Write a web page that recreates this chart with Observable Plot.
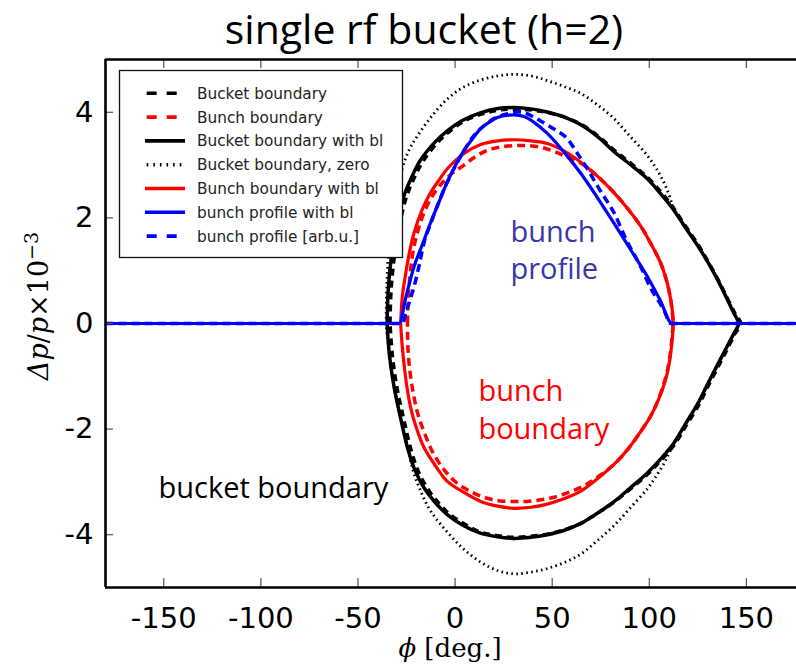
<!DOCTYPE html>
<html><head><meta charset="utf-8">
<script src="https://cdn.jsdelivr.net/npm/d3@7"></script>
<script src="https://cdn.jsdelivr.net/npm/@observablehq/plot@0.6"></script>
<style>body{margin:0;background:#fff;} svg{display:block;}</style>
</head><body><div id="chart"></div>
<script>
// ---- data (phi in degrees, dp in 1e-3) ----
const xDomain = [-180, 175.8];
const yDomain = [-5, 5];
const xTicks = [-150, -100, -50, 0, 50, 100, 150];
const yTicks = [-4, -2, 0, 2, 4];

const bucketNoBL = [[-33.5,0],[-33,0.6],[-31.5,1.2],[-29,1.8],[-25,2.4],[-20.5,2.8],[-16,3.1],[-8.5,3.45],[-2.5,3.65],[5,3.84],[14,3.97],[22,4.04],[30,4.06],[40,4.04],[48,3.99],[57,3.9],[65,3.77],[74,3.54],[82,3.28],[91,3.02],[99,2.77],[106,2.49],[112,2.21],[118,1.88],[125,1.5],[130,1.19],[135,0.86],[140,0.49],[144,0.2],[147,0],
[144,-0.2],[140.5,-0.46],[136,-0.78],[130.5,-1.17],[125.5,-1.54],[119,-1.93],[113,-2.29],[106,-2.59],[99,-2.86],[90,-3.14],[82,-3.38],[73,-3.6],[65,-3.78],[56,-3.91],[47.5,-3.99],[39,-4.03],[30,-4.05],[22,-4.02],[13,-3.95],[5,-3.8],[-2.5,-3.62],[-8.5,-3.4],[-14.5,-3.11],[-19.5,-2.75],[-23,-2.35],[-26.5,-1.8],[-30,-1.2],[-32.3,-0.6],[-33.5,0]];

const bunchNoBL = [[-24.5,0],[-24.2,0.4],[-23.4,0.83],[-22.3,1.2],[-20.9,1.5],[-18.8,1.8],[-16,2.1],[-12,2.4],[-7.4,2.63],[-2,2.83],[4.6,3.0],[10,3.15],[16.6,3.28],[23,3.34],[30.3,3.37],[37,3.37],[44,3.34],[51,3.26],[57.8,3.15],[64.6,3.04],[73,2.8],[81.8,2.48],[89,2.17],[95.5,1.85],[101,1.5],[105.8,1.15],[109,0.8],[110.8,0.5],[112,0.15],[112.2,0],
[111.6,-0.3],[110.3,-0.7],[108.2,-1.05],[104,-1.5],[100,-1.8],[95.5,-2.05],[89,-2.38],[81.8,-2.67],[73,-2.92],[66,-3.08],[59,-3.19],[51,-3.29],[44,-3.34],[37,-3.37],[30.3,-3.37],[23,-3.36],[16.6,-3.31],[9,-3.2],[1.2,-3.03],[-5,-2.8],[-10.9,-2.48],[-15.5,-2.1],[-19.2,-1.71],[-21.6,-1.3],[-23.3,-0.89],[-24.3,-0.45],[-24.5,0]];

const bucketBL = [[-35,0],[-34.5,0.6],[-33,1.2],[-30.5,1.8],[-26.5,2.4],[-22,2.8],[-17.7,3.1],[-10,3.45],[-4,3.65],[4,3.85],[13,3.99],[22,4.07],[30,4.09],[40,4.06],[48,4.0],[57,3.9],[65,3.76],[74,3.52],[82,3.25],[91,2.99],[99,2.74],[106,2.45],[112,2.18],[118,1.85],[125,1.47],[130,1.17],[135,0.84],[140,0.47],[143.5,0.2],[146,0],
[143.5,-0.19],[140,-0.44],[135.3,-0.77],[130,-1.15],[124.9,-1.52],[118.5,-1.91],[112.6,-2.27],[106,-2.56],[99,-2.83],[90,-3.12],[82,-3.37],[73,-3.6],[65,-3.78],[56,-3.92],[47.5,-4.0],[39,-4.05],[30,-4.07],[22,-4.04],[13,-3.97],[4,-3.82],[-4,-3.62],[-10,-3.4],[-16,-3.11],[-21,-2.75],[-24.5,-2.35],[-28,-1.8],[-31.4,-1.2],[-33.8,-0.6],[-35,0]];

const bucketZero = [[-35.5,0],[-35.2,0.7],[-34,1.5],[-31.5,2.25],[-27.5,2.9],[-23.5,3.3],[-19.4,3.55],[-12.6,3.9],[-4,4.25],[4,4.47],[13,4.61],[22,4.69],[30,4.72],[39,4.69],[47.5,4.6],[56,4.49],[64.6,4.36],[73,4.15],[81.8,3.88],[90,3.55],[99,3.18],[105,2.85],[109,2.55],[113,2.15],[118,1.85],[125,1.47],[130,1.17],[135,0.84],[140,0.47],[143.5,0.2],[146,0],
[143.5,-0.19],[140,-0.44],[135.3,-0.77],[130,-1.15],[124.9,-1.52],[118.5,-1.91],[112.6,-2.27],[108,-2.62],[103,-2.92],[99,-3.13],[90,-3.5],[81.8,-3.83],[73,-4.12],[64.6,-4.37],[56,-4.53],[47.5,-4.64],[39,-4.71],[30.3,-4.74],[22,-4.68],[13.2,-4.52],[4,-4.26],[-4,-3.95],[-12.6,-3.55],[-18,-3.15],[-21.5,-2.8],[-24.5,-2.35],[-28,-1.8],[-31.4,-1.2],[-33.8,-0.6],[-35.5,0]];

const bunchBL = [[-28,0],[-27.2,0.5],[-25.4,0.95],[-23.5,1.35],[-21.1,1.72],[-17,2.15],[-12.6,2.48],[-8,2.73],[-4,2.93],[4.6,3.22],[13.2,3.39],[22,3.46],[30.3,3.48],[39,3.46],[47.5,3.41],[56,3.27],[64.6,3.06],[73,2.8],[81.8,2.48],[89,2.17],[95.5,1.85],[101,1.5],[105.8,1.15],[109,0.8],[110.8,0.5],[112,0.2],[112.3,0],
[111.8,-0.3],[110.5,-0.7],[108.5,-1.05],[104.1,-1.5],[100,-1.8],[95.5,-2.05],[89,-2.38],[81.8,-2.67],[73,-2.95],[64.6,-3.18],[56,-3.32],[47.5,-3.42],[39,-3.48],[30.3,-3.5],[22,-3.46],[13.2,-3.37],[4.6,-3.2],[-4,-2.99],[-10,-2.7],[-16,-2.35],[-20,-1.97],[-22.9,-1.59],[-25,-1.15],[-26.3,-0.76],[-27.5,-0.3],[-28,0]];

const profileBL = [[-180,0],[-28.9,0],[-25,0.55],[-21.1,1.08],[-16.8,1.5],[-12.6,1.91],[-8.3,2.3],[-4,2.68],[0.3,3.0],[4.6,3.28],[9,3.5],[13.2,3.69],[17.5,3.81],[21.8,3.9],[26,3.94],[30.3,3.95],[35.5,3.92],[41,3.8],[47.5,3.6],[56,3.25],[64.6,2.85],[73,2.4],[81.8,1.9],[90,1.42],[99,0.89],[105.5,0.45],[111.8,0],[180,0]];

const profileArb = [[-180,0],[-27,0],[-25.4,0.19],[-23.2,0.45],[-21.1,0.7],[-18.5,1.1],[-16,1.53],[-12.5,1.9],[-9.1,2.23],[-5,2.6],[-0.6,2.93],[4.5,3.27],[9.7,3.56],[15,3.75],[20,3.88],[27,3.97],[33.8,4.01],[40,3.92],[47.5,3.76],[52,3.66],[57.8,3.5],[63,3.22],[68.1,2.93],[75,2.5],[81.8,2.1],[88,1.6],[95.5,1.08],[101,0.65],[107.5,0.26],[111,0],[180,0]];

const legendLabels = ["Bucket boundary","Bunch boundary","Bucket boundary with bl","Bucket boundary, zero","Bunch boundary with bl","bunch profile with bl","bunch profile [arb.u.]"];

const titleText = "single rf bucket (h=2)";
const notes = [
  {phi: 28.5, dp: 0.85, text: "bunch\nprofile", color: "#3838a8"},
  {phi: 12.0, dp: -2.18, text: "bunch\nboundary", color: "#ff0000"},
  {phi: -152.7, dp: -3.3, text: "bucket boundary", color: "#000000"}
];

// ---- styles ----
const series = [
  {data: bucketNoBL, stroke: "#000", width: 3.5, dash: "7,5", curve: "catmull-rom"},
  {data: bunchNoBL, stroke: "#ff0000", width: 3.5, dash: "8,5", curve: "catmull-rom"},
  {data: bucketBL, stroke: "#000", width: 3.5, dash: null, curve: "catmull-rom"},
  {data: bucketZero, stroke: "#000", width: 2.8, dash: "1.6,3.4", curve: "catmull-rom"},
  {data: bunchBL, stroke: "#ff0000", width: 3.2, dash: null, curve: "catmull-rom"},
  {data: profileBL, stroke: "#0000ff", width: 3.2, dash: null, curve: "monotone-x"},
  {data: profileArb, stroke: "#0000ff", width: 3.5, dash: "8,5", curve: "monotone-x"}
];
const legendDash = ["10,10", "10,10", null, "1.6,5", null, null, "10,10"];

const rows = a => a.map(([phi, dp]) => ({phi, dp}));
const W = 796, H = 666, mL = 105, mR = 0, mT = 59, mB = 79;
const fw = W - mL - mR, fh = H - mT - mB;

const marks = [];
for (const s of series) {
  marks.push(Plot.line(rows(s.data), {x: "phi", y: "dp", stroke: s.stroke, strokeWidth: s.width,
    strokeDasharray: s.dash || undefined, strokeLinecap: "butt", curve: s.curve, clip: true, strokeLinejoin: "round"}));
}
// ticks (inward)
marks.push(Plot.ruleX(xTicks, {x: d => d, insetTop: fh - 9, stroke: "#555", strokeWidth: 1.2}));
marks.push(Plot.ruleX(xTicks, {x: d => d, insetBottom: fh - 9, stroke: "#555", strokeWidth: 1.2}));
marks.push(Plot.ruleY(yTicks, {y: d => d, insetRight: fw - 8, stroke: "#555", strokeWidth: 1.2}));
// frame (right side lies outside the picture)
marks.push(Plot.ruleX([xDomain[0]], {stroke: "#000", strokeWidth: 2.6}));
marks.push(Plot.ruleY([yDomain[0], yDomain[1]], {stroke: "#000", strokeWidth: 2.6}));
// axes labels
marks.push(Plot.axisX({ticks: xTicks, tickSize: 0, tickPadding: 20, fontSize: 29, tickFormat: d => String(d), label: null, fill: "#000"}));
marks.push(Plot.axisY({ticks: yTicks, tickSize: 0, tickPadding: 12, fontSize: 29, tickFormat: d => String(d), label: null, fill: "#000"}));
// annotations
marks.push(Plot.text(notes, {x: "phi", y: "dp", text: "text", fill: "color", textAnchor: "start", lineAnchor: "bottom",
  fontSize: 29, lineHeight: 1.28, fontFamily: "Open Sans"}));
// title
marks.push(Plot.text([titleText], {text: d => d, frameAnchor: "top", dx: -27, dy: -16, lineAnchor: "bottom",
  fontSize: 41, fontFamily: "Open Sans", fill: "#000"}));

const plot = Plot.plot({
  width: W, height: H, marginLeft: mL, marginRight: mR, marginTop: mT, marginBottom: mB,
  x: {domain: xDomain}, y: {domain: yDomain},
  style: {fontFamily: "DejaVu Sans", background: "#fff", color: "#000", overflow: "hidden"},
  marks
});
document.getElementById("chart").appendChild(plot);

const svg = d3.select(plot);
// y label
const yl = svg.append("text").attr("transform", "translate(48,306) rotate(-90)")
  .attr("text-anchor", "middle").attr("font-family", "DejaVu Serif").attr("font-size", 27).attr("fill", "#000");
yl.append("tspan").attr("font-style", "italic").text("Δp");
yl.append("tspan").text("/");
yl.append("tspan").attr("font-style", "italic").text("p");
yl.append("tspan").text("×10");
yl.append("tspan").attr("dy", "-0.55em").attr("font-size", 19).text("−3");
// x label
const xl = svg.append("text").attr("x", 450).attr("y", 657)
  .attr("text-anchor", "middle").attr("font-family", "DejaVu Serif").attr("font-size", 26).attr("fill", "#000");
xl.append("tspan").attr("font-style", "italic").text("ϕ");
xl.append("tspan").text(" [deg.]");

// legend
const lg = svg.append("g").attr("text-anchor", "start");
lg.append("rect").attr("x", 119.5).attr("y", 70.5).attr("width", 283).attr("height", 187)
  .attr("fill", "#fff").attr("stroke", "#111").attr("stroke-width", 1.3);
legendLabels.forEach((label, i) => {
  const s = series[i];
  const y = 93.3 + i * 23.8;
  lg.append("line").attr("x1", 145).attr("x2", 185).attr("y1", y).attr("y2", y)
    .attr("stroke", s.stroke).attr("stroke-width", 3.6)
    .attr("stroke-dasharray", legendDash[i]).attr("stroke-dashoffset", legendDash[i] ? -1.7 : null);
  lg.append("text").attr("x", 197).attr("y", y).attr("dy", "0.36em").attr("text-anchor", "start")
    .attr("font-family", "DejaVu Sans").attr("font-size", 15.3).attr("fill", "#222").text(label);
});
</script></body></html>
